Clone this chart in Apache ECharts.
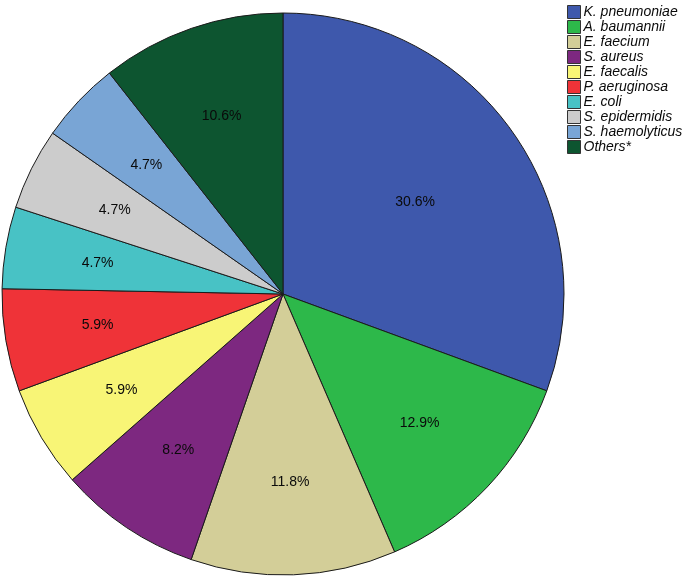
<!DOCTYPE html>
<html>
<head>
<meta charset="utf-8">
<script src="https://cdn.jsdelivr.net/npm/echarts@6/dist/echarts.min.js"></script>
<style>
  html, body { margin: 0; padding: 0; background: #fff; }
  #chart { width: 685px; height: 577px; }
</style>
</head>
<body>
<div id="chart"></div>
<script>
// organism names (legend order = slice order, clockwise from 12 o'clock)
const names = ['K. pneumoniae', 'A. baumannii', 'E. faecium', 'S. aureus', 'E. faecalis',
  'P. aeruginosa', 'E. coli', 'S. epidermidis', 'S. haemolyticus', 'Others*'];
// percentages
const percents = [30.6, 12.9, 11.8, 8.2, 5.9, 5.9, 4.7, 4.7, 4.7, 10.6];
const colors = ['#3e58ac', '#2db84a', '#d3ce98', '#7d2880', '#f8f576',
  '#ef3338', '#48c2c5', '#cccccc', '#79a5d5', '#0d5530'];

const pieData = names.map((n, i) => ({ name: n, value: percents[i] }));
// the big slice has its label a bit closer to the centre
const labelData = pieData.map((d, i) => i === 0 ? { ...d, label: { offset: [-22, 16] } } : d);

const chart = echarts.init(document.getElementById('chart'));
const option = {
  animation: false,
  color: colors,
  legend: {
    orient: 'vertical',
    left: 562,
    top: 0,
    itemWidth: 13,
    itemHeight: 13,
    itemGap: 1,
    icon: 'rect',
    itemStyle: { borderColor: '#333', borderWidth: 1 },
    textStyle: {
      fontFamily: 'Liberation Sans, Arial, sans-serif',
      fontStyle: 'italic',
      fontSize: 14,
      color: '#0a0a0a',
      padding: [0, 0, 0, -2]
    },
    data: names
  },
  series: [
    {
      // the slices
      type: 'pie',
      center: [283, 294],
      radius: [0, 281],
      startAngle: 90,
      clockwise: true,
      silent: true,
      itemStyle: { borderColor: '#1a1a1a', borderWidth: 1 },
      label: { show: false },
      labelLine: { show: false },
      data: pieData
    },
    {
      // transparent copy that only carries the labels further out
      type: 'pie',
      center: [283, 294],
      radius: [89, 281],
      startAngle: 90,
      clockwise: true,
      silent: true,
      itemStyle: { color: 'transparent', borderWidth: 0 },
      label: {
        show: true,
        position: 'inside',
        fontFamily: 'Liberation Sans, Arial, sans-serif',
        fontSize: 14,
        color: '#0a0a0a',
        formatter: p => p.value.toFixed(1) + '%'
      },
      labelLine: { show: false },
      emphasis: { disabled: true },
      data: labelData
    }
  ]
};
chart.setOption(option);
window.addEventListener('resize', () => {
  chart.resize();
});
</script>
</body>
</html>
